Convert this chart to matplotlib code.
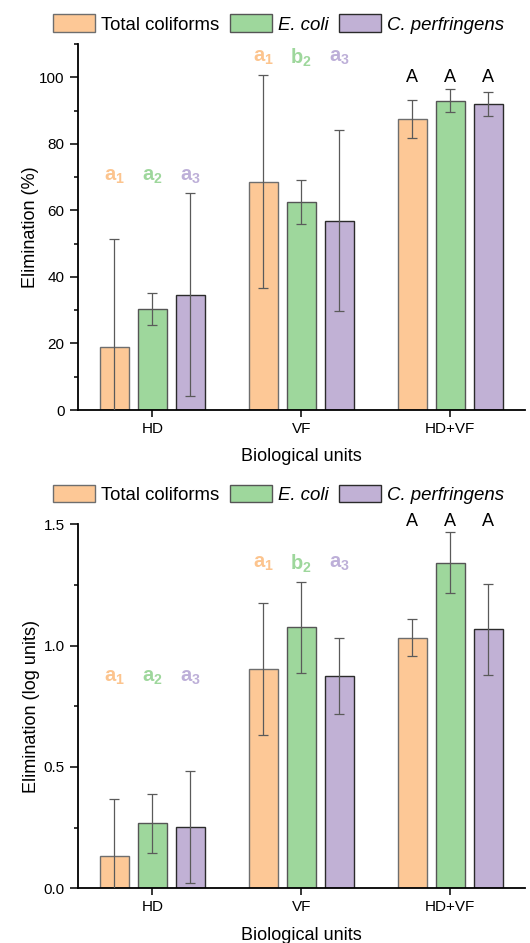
import numpy as np
import matplotlib
matplotlib.use("Agg")
import matplotlib.pyplot as plt
from matplotlib.patches import Patch

plt.rcParams['font.family'] = ['Liberation Sans', 'DejaVu Sans']
plt.rcParams['mathtext.fontset'] = 'custom'
plt.rcParams['mathtext.rm'] = 'Liberation Sans'
plt.rcParams['mathtext.bf'] = 'Liberation Sans:bold'

# data
units = ["HD", "VF", "HD+VF"]
series = ["Total coliforms", "E. coli", "C. perfringens"]

elim_pct = [[18.8, 68.6, 87.5],
            [30.3, 62.4, 93.0],
            [34.7, 56.9, 92.0]]
elim_pct_sd = [[32.6, 32.0, 5.8],
               [4.8, 6.6, 3.4],
               [30.6, 27.2, 3.5]]

elim_log = [[0.134, 0.902, 1.033],
            [0.268, 1.075, 1.342],
            [0.254, 0.875, 1.067]]
elim_log_sd = [[0.234, 0.272, 0.076],
               [0.122, 0.186, 0.125],
               [0.231, 0.155, 0.187]]

# letters above groups
letters = [["a_1", "a_2", "a_3"], ["a_1", "b_2", "a_3"], ["A", "A", "A"]]
letter_y_pct = [70.3, 105.9, 100.0]
letter_y_log = [0.867, 1.339, 1.51]

fills = ["#FDC896", "#9ED79C", "#C1B1D5"]
edges = ["#6e6e6e", "#555555", "#2b2b2b"]
letter_cols = ["#FCC48E", "#9ED79C", "#BDAFD8"]

fig = plt.figure(figsize=(5.3, 9.43), dpi=100)
ax1 = fig.add_axes([0.147, 0.5652, 0.843, 0.3881])
ax2 = fig.add_axes([0.147, 0.0580, 0.843, 0.3860])

x = np.arange(len(units))
step = 0.255
width = 0.195


def draw(ax, vals, sds, ylabel, letter_y, ylim, major, minor, fmt, ypad):
    for i in range(3):
        xs = x + (i - 1) * step
        ax.bar(xs, vals[i], width, color=fills[i], edgecolor=edges[i],
               linewidth=1.0, zorder=2)
        ax.errorbar(xs, vals[i], yerr=sds[i], fmt="none", ecolor="#5a5a5a",
                    elinewidth=0.9, capsize=3.3, capthick=0.9, zorder=3)
    for g in range(3):
        for i in range(3):
            lab = letters[g][i]
            xs = x[g] + (i - 1) * step
            if lab == "A":
                ax.text(xs, letter_y[g], "A", ha="center", va="center",
                        fontsize=13, color="black")
            else:
                ax.text(xs, letter_y[g], r"$\mathbf{" + lab + "}$",
                        ha="center", va="center", fontsize=14.5,
                        color=letter_cols[i])
    ax.set_xlim(-0.5, 2.5)
    ax.set_ylim(*ylim)
    ax.set_xticks(x)
    ax.set_xticklabels(units, fontsize=11)
    ax.set_yticks(np.arange(0, ylim[1] + 1e-9, major))
    ax.set_yticks(np.arange(0, ylim[1] + 1e-9, minor), minor=True)
    ax.yaxis.set_major_formatter(plt.FormatStrFormatter(fmt))
    ax.tick_params(axis="y", which="major", length=6, width=1.1, labelsize=11)
    ax.tick_params(axis="y", which="minor", length=3, width=1.1)
    ax.tick_params(axis="x", which="major", length=5, width=1.1)
    ax.spines["top"].set_visible(False)
    ax.spines["right"].set_visible(False)
    ax.spines["left"].set_linewidth(1.3)
    ax.spines["bottom"].set_linewidth(1.3)
    ax.set_xlabel("Biological units", fontsize=13, labelpad=9)
    ax.set_ylabel(ylabel, fontsize=13, labelpad=ypad)


draw(ax1, elim_pct, elim_pct_sd, "Elimination (%)", letter_y_pct,
     (0, 110), 20, 10, "%d", 0.5)
draw(ax2, elim_log, elim_log_sd, "Elimination (log units)", letter_y_log,
     (0, 1.5), 0.5, 0.25, "%.1f", 2.5)

handles = [Patch(facecolor=fills[i], edgecolor=edges[i], linewidth=1.0)
           for i in range(3)]

for yc in (0.9745, 0.476):
    leg = fig.legend(handles, series,
                     loc="center", bbox_to_anchor=(0.526, yc), ncol=3,
                     frameon=False, fontsize=13.4, handlelength=2.27,
                     handleheight=1.1, handletextpad=0.33, columnspacing=0.55,
                     borderaxespad=0, borderpad=0)
    for t in leg.get_texts()[1:]:
        t.set_fontstyle("italic")

fig.savefig("out.png", dpi=100)
